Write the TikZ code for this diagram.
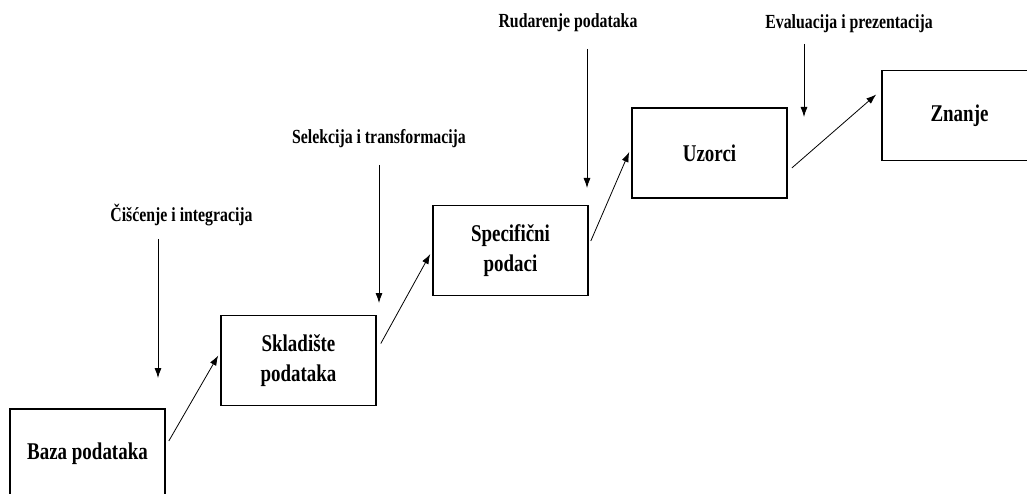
\documentclass[tikz,border=0pt]{standalone}
\usepackage{fontspec}
\setmainfont{Liberation Serif}[FakeStretch=0.79]
\usetikzlibrary{arrows.meta}

\begin{document}
\begin{tikzpicture}[x=1pt, y=-1pt,
	main/.style = {draw, line width=1.6pt, minimum width=155pt, minimum height=90pt, inner sep=0pt, align=center, font=\fontsize{24}{30}\selectfont\bfseries},
	lbl/.style = {anchor=base, inner sep=0pt, font=\fontsize{20}{24}\selectfont\bfseries},
	>={Latex[length=10pt,width=7pt]}]
	\useasboundingbox (0,0) rectangle (1027,494);
	\node[main] (1) at (87.5,454) {Baza podataka};
	\node[main] (2) at (298.5,360.5) {Skladište\\podataka};
	\node[main] (3) at (510.5,250.5) {Specifični\\podaci};
	\node[main] (4) at (709.5,153) {Uzorci};
	\node[main] (5) at (959.5,115.5) {Znanje};
	\node[lbl] (6) at (181.5,222) {Čišćenje i integracija};
	\node[lbl] (7) at (379,144) {Selekcija i transformacija};
	\node[lbl] (8) at (568,28) {Rudarenje podataka};
	\node[lbl] (9) at (849,29) {Evaluacija i prezentacija};
	\coordinate (a6) at (158,239);
	\coordinate (b6) at (158,378);
	\coordinate (a7) at (379,165);
	\coordinate (b7) at (379,303);
	\coordinate (a8) at (587,49);
	\coordinate (b8) at (587,188);
	\coordinate (a9) at (804,44);
	\coordinate (b9) at (804,117);
	\draw[->, line width=0.8pt] ([shift={(3,-13)}]1.east) -- ([shift={(-2,-5)}]2.west);
	\draw[->, line width=0.8pt] ([shift={(4,-17)}]2.east) -- ([shift={(-2,3.5)}]3.west);
	\draw[->, line width=0.8pt] ([shift={(2,-9.5)}]3.east) -- ([shift={(-2,-1)}]4.west);
	\draw[->, line width=0.8pt] ([shift={(4,15)}]4.east) -- ([shift={(-5,-21)}]5.west);
	\draw[->, line width=0.8pt] (a6) -- (b6);
	\draw[->, line width=0.8pt] (a7) -- (b7);
	\draw[->, line width=0.8pt] (a8) -- (b8);
	\draw[->, line width=0.8pt] (a9) -- (b9);
\end{tikzpicture}
\end{document}
